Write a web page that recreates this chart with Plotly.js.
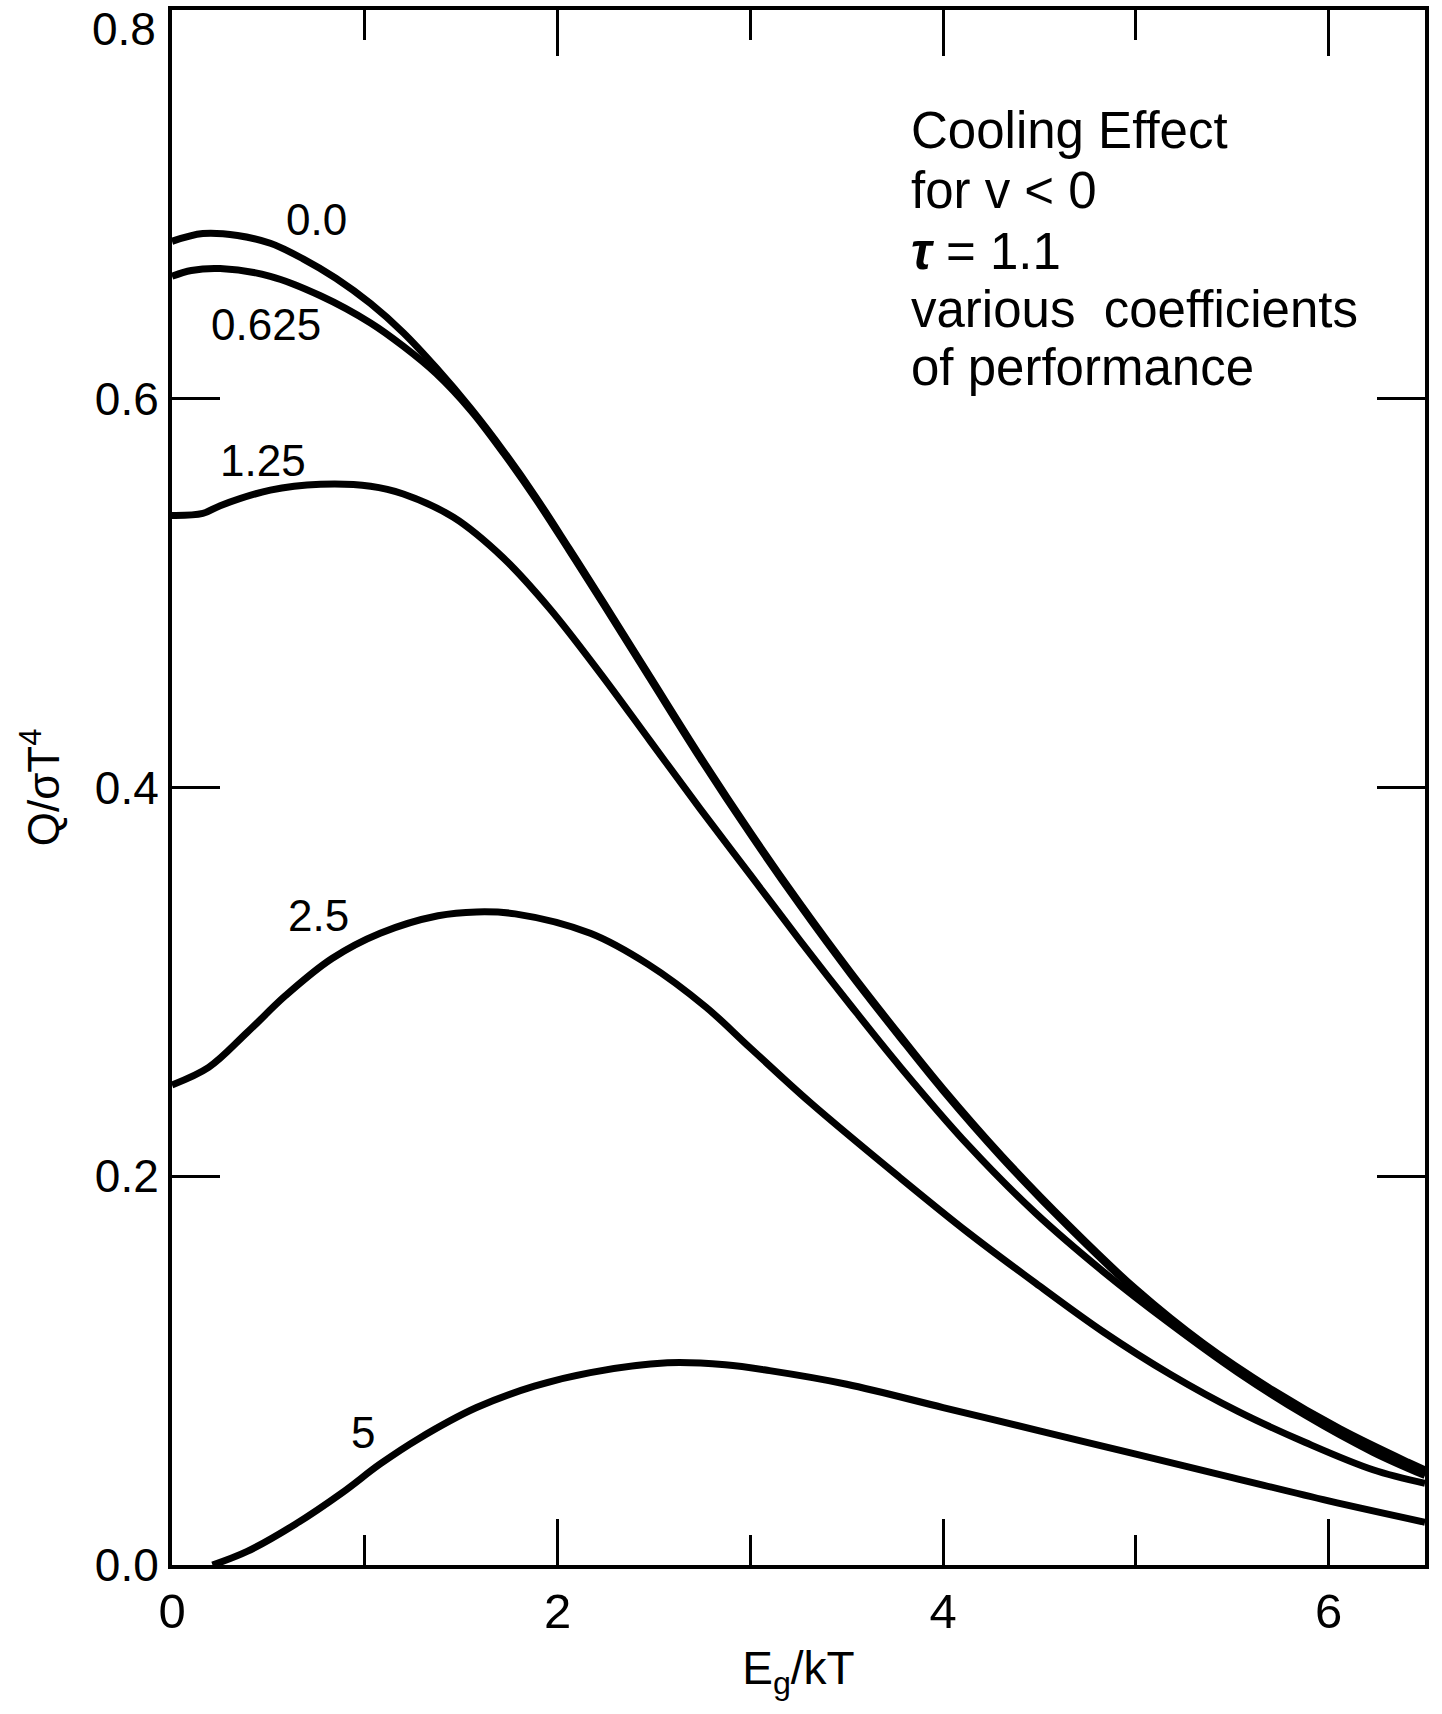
<!DOCTYPE html>
<html>
<head>
<meta charset="utf-8">
<script src="https://cdn.plot.ly/plotly-3.0.1.min.js"></script>
<style>html,body{margin:0;padding:0;background:#fff;}#chart{width:1442px;height:1714px;}</style>
</head>
<body>
<div id="chart"></div>
<script>
// Coefficient-of-performance labels
const seriesNames = ["0.0", "0.625", "1.25", "2.5", "5"];

// Eg/kT values and Q/sigmaT^4 values
const x_00 = [0, 0.16, 0.34, 0.51, 0.68, 0.85, 1.03, 1.20, 1.37, 1.55, 1.72, 1.89, 2.06, 2.24, 2.48, 2.74, 3.00, 3.26, 3.52, 3.78, 4.00, 4.30, 4.65, 5.00, 5.35, 5.71, 6.06, 6.41, 6.5];
const y_00 = [0.681, 0.685, 0.684, 0.680, 0.672, 0.662, 0.649, 0.634, 0.616, 0.595, 0.573, 0.549, 0.523, 0.495, 0.457, 0.416, 0.377, 0.340, 0.305, 0.272, 0.245, 0.211, 0.175, 0.142, 0.114, 0.090, 0.070, 0.053, 0.049];

const x_0625 = [0, 0.10, 0.25, 0.51, 0.77, 1.03, 1.20, 1.37, 1.55, 1.72, 1.89, 2.06, 2.24, 2.48, 2.74, 3.00, 3.26, 3.52, 3.78, 4.00, 4.30, 4.65, 5.00, 5.35, 5.71, 6.06, 6.41, 6.5];
const y_0625 = [0.663, 0.666, 0.667, 0.663, 0.653, 0.639, 0.627, 0.613, 0.594, 0.572, 0.548, 0.522, 0.494, 0.456, 0.415, 0.376, 0.339, 0.304, 0.271, 0.244, 0.210, 0.174, 0.141, 0.113, 0.089, 0.069, 0.052, 0.048];

const x_125 = [0, 0.16, 0.25, 0.51, 0.77, 1.03, 1.20, 1.46, 1.72, 1.96, 2.22, 2.48, 2.74, 3.00, 3.26, 3.52, 3.78, 4.13, 4.48, 4.83, 5.18, 5.53, 5.88, 6.23, 6.5];
const y_125 = [0.540, 0.541, 0.545, 0.553, 0.556, 0.555, 0.551, 0.539, 0.518, 0.492, 0.459, 0.424, 0.389, 0.355, 0.321, 0.288, 0.256, 0.216, 0.181, 0.151, 0.124, 0.099, 0.077, 0.058, 0.046];

const x_25 = [0, 0.19, 0.39, 0.59, 0.83, 1.08, 1.38, 1.58, 1.78, 2.17, 2.47, 2.77, 3.00, 3.31, 3.78, 4.13, 4.48, 4.83, 5.18, 5.53, 5.88, 6.23, 6.5];
const y_25 = [0.247, 0.256, 0.274, 0.293, 0.312, 0.325, 0.334, 0.336, 0.335, 0.325, 0.309, 0.287, 0.266, 0.238, 0.199, 0.171, 0.145, 0.120, 0.098, 0.079, 0.063, 0.049, 0.042];

const x_5 = [0.21, 0.39, 0.64, 0.88, 1.08, 1.28, 1.58, 1.88, 2.17, 2.57, 2.87, 3.10, 3.5, 4.0, 4.5, 5.0, 5.5, 6.0, 6.5];
const y_5 = [0.0, 0.007, 0.021, 0.037, 0.052, 0.065, 0.081, 0.092, 0.099, 0.104, 0.103, 0.100, 0.093, 0.081, 0.069, 0.057, 0.045, 0.033, 0.022];

// Axis ticks
const xMajorTicks = [0, 2, 4, 6];
const xMinorTicks = [1, 3, 5];
const yTicks = [0, 0.2, 0.4, 0.6, 0.8];
const yTickText = ["0.0", "0.2", "0.4", "0.6", "0.8"];

// Text block lines
const noteLines = ["Cooling Effect", "for v &lt; 0", "<i><b>τ</b></i> = 1.1", "various  coefficients", "of performance"];

const FONT = "Liberation Sans, Arial, Helvetica, sans-serif";
const xs = [x_00, x_0625, x_125, x_25, x_5];
const ys = [y_00, y_0625, y_125, y_25, y_5];

const traces = seriesNames.map((n, i) => ({
  x: xs[i], y: ys[i], name: n, type: "scatter", mode: "lines",
  line: {color: "#000", width: 7, shape: "spline", smoothing: 1.0},
  hoverinfo: "skip"
}));

const labelPos = {"0.0": [0.75, 0.692], "0.625": [0.49, 0.638], "1.25": [0.47, 0.568], "2.5": [0.76, 0.334], "5": [0.99, 0.068]};
const annotations = seriesNames.map(n => ({
  x: labelPos[n][0], y: labelPos[n][1], xref: "x", yref: "y", text: n, showarrow: false,
  font: {family: FONT, size: 44, color: "#000"}, xanchor: "center", yanchor: "middle"
}));

const noteY = [0.738, 0.707, 0.676, 0.646, 0.616];
noteLines.forEach((t, i) => annotations.push({
  x: 3.83, y: noteY[i], xref: "x", yref: "y", xanchor: "left", yanchor: "middle", align: "left",
  showarrow: false, borderpad: 0, text: t,
  font: {family: FONT, size: 51, color: "#000"}
}));

// top y tick label (drawn inside the figure, just below the frame corner)
annotations.push({
  x: 0, xref: "paper", xshift: -14, y: 0.79, yref: "y", xanchor: "right", yanchor: "middle",
  showarrow: false, text: yTickText[4], font: {family: FONT, size: 46, color: "#000"}
});

const layout = {
  width: 1442, height: 1714,
  margin: {l: 172, r: 17, t: 10, b: 149},
  paper_bgcolor: "#fff", plot_bgcolor: "#fff",
  showlegend: false,
  font: {family: FONT, color: "#000"},
  xaxis: {
    range: [0, 6.5], tickmode: "array", tickvals: xMajorTicks, ticktext: xMajorTicks.map(String),
    ticks: "inside", ticklen: 46, tickwidth: 3, tickcolor: "#000",
    minor: {tickmode: "array", tickvals: xMinorTicks, ticks: "inside", ticklen: 30, tickwidth: 3, tickcolor: "#000"},
    showline: true, linewidth: 4, linecolor: "#000", mirror: "ticks",
    showgrid: false, zeroline: false,
    tickfont: {family: FONT, size: 49, color: "#000"},
    title: {text: "E<sub>g</sub>/kT", font: {family: FONT, size: 46, color: "#000"}, standoff: 16}
  },
  yaxis: {
    range: [0, 0.8], tickmode: "array", tickvals: yTicks,
    ticktext: yTickText.map((t, i) => i === yTickText.length - 1 ? "" : t),
    ticks: "inside", ticklen: 48, tickwidth: 3, tickcolor: "#000",
    showline: true, linewidth: 4, linecolor: "#000", mirror: "ticks",
    showgrid: false, zeroline: false,
    tickfont: {family: FONT, size: 46, color: "#000"},
    title: {text: "Q/σT<sup>4</sup>", font: {family: FONT, size: 44, color: "#000"}, standoff: 22}
  },
  annotations: annotations
};

Plotly.newPlot("chart", traces, layout, {displayModeBar: false, staticPlot: true});
</script>
</body>
</html>
